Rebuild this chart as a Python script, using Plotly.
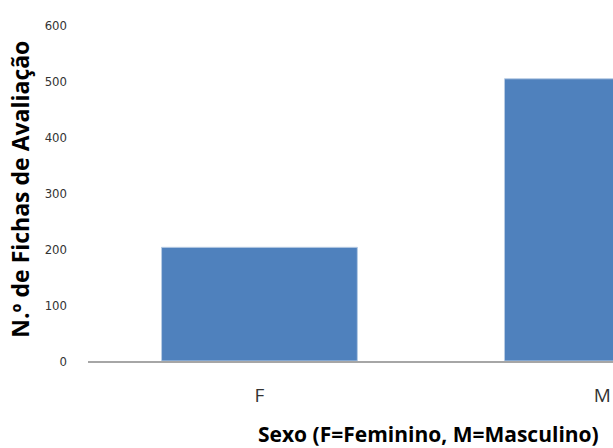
import plotly.graph_objects as go

# Number of evaluation records per sex
categorias = ["F", "M"]
fichas = [203, 504]
y_ticks = [0, 100, 200, 300, 400, 500, 600]

fig = go.Figure(
    go.Bar(
        x=categorias,
        y=fichas,
        marker=dict(color="#4F81BD", line=dict(color="#B8CCE4", width=1)),
        width=0.571,
    )
)

fig.update_layout(
    width=613,
    height=448,
    margin=dict(l=88, r=0, t=25, b=87),
    paper_bgcolor="white",
    plot_bgcolor="white",
    showlegend=False,
    xaxis=dict(
        type="category",
        range=[-0.5, 1.031],
        showline=True,
        linecolor="#A6A6A6",
        linewidth=1.5,
        showgrid=False,
        ticks="",
        tickfont=dict(family="Open Sans", size=19, color="#333333"),
        ticklabelstandoff=16,
    ),
    yaxis=dict(
        range=[0, 600],
        tickvals=y_ticks,
        showline=False,
        showgrid=False,
        zeroline=False,
        ticks="",
        ticklabelstandoff=20,
        tickfont=dict(family="DejaVu Sans Condensed", size=13, color="#333333"),
    ),
    annotations=[
        dict(
            text="N.º de Fichas de Avaliação",
            xref="paper",
            yref="paper",
            x=-0.1295,
            y=0.51,
            xanchor="center",
            yanchor="middle",
            textangle=-90,
            showarrow=False,
            font=dict(family="Open Sans", size=23, color="black", weight="bold"),
        ),
        dict(
            text="Sexo (F=Feminino, M=Masculino)",
            xref="paper",
            yref="paper",
            x=0.648,
            y=-0.218,
            xanchor="center",
            yanchor="middle",
            showarrow=False,
            font=dict(family="Open Sans", size=21, color="black", weight="bold"),
        ),
    ],
)

fig.write_html("out.html")
